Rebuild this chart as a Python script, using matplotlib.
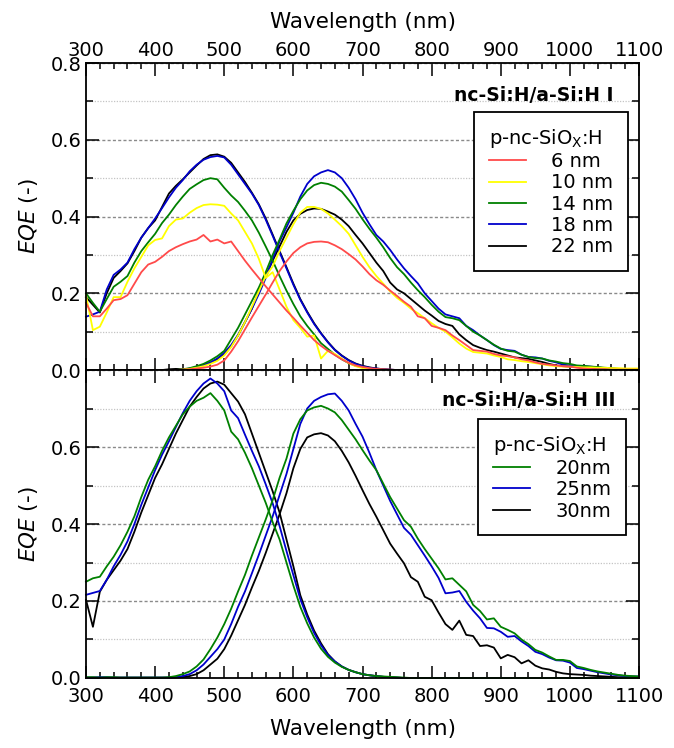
import numpy as np
import matplotlib
matplotlib.use('Agg')
import matplotlib.pyplot as plt
from matplotlib.ticker import MultipleLocator, FormatStrFormatter

plt.rcParams['font.family'] = ['DejaVu Sans']
plt.rcParams['mathtext.fontset'] = 'dejavusans'

# Wavelength grid (nm)
wavelength = np.arange(300, 1101, 10)

# ---- Panel I: nc-Si:H/a-Si:H I, short-wavelength (top cell) EQE ----
top_short_6 = [
    0.175, 0.14, 0.14, 0.16, 0.182, 0.185, 0.195, 0.225, 0.255, 0.275,
    0.282, 0.295, 0.31, 0.32, 0.328, 0.335, 0.34, 0.352, 0.335, 0.34,
    0.33, 0.335, 0.31, 0.285, 0.262, 0.24, 0.218, 0.197, 0.176, 0.155,
    0.136, 0.116, 0.097, 0.078, 0.063, 0.05, 0.039, 0.028, 0.019, 0.012,
    0.008, 0.005, 0.003, 0.002, 0.001, 0.0, 0.0, 0.0, 0.0, 0.0,
    0.0, 0.0, 0.0, 0.0, 0.0, 0.0, 0.0, 0.0, 0.0, 0.0,
    0.0, 0.0, 0.0, 0.0, 0.0, 0.0, 0.0, 0.0, 0.0, 0.0,
    0.0, 0.0, 0.0, 0.0, 0.0, 0.0, 0.0, 0.0, 0.0, 0.0,
    0.0]
top_short_10 = [
    0.195, 0.104, 0.113, 0.15, 0.19, 0.19, 0.23, 0.265, 0.295, 0.325,
    0.339, 0.343, 0.375, 0.392, 0.395, 0.41, 0.422, 0.43, 0.432, 0.431,
    0.428, 0.408, 0.39, 0.36, 0.33, 0.29, 0.24, 0.255, 0.21, 0.165,
    0.13, 0.11, 0.087, 0.09, 0.03, 0.05, 0.042, 0.03, 0.018, 0.01,
    0.005, 0.003, 0.001, 0.0, 0.0, 0.0, 0.0, 0.0, 0.0, 0.0,
    0.0, 0.0, 0.0, 0.0, 0.0, 0.0, 0.0, 0.0, 0.0, 0.0,
    0.0, 0.0, 0.0, 0.0, 0.0, 0.0, 0.0, 0.0, 0.0, 0.0,
    0.0, 0.0, 0.0, 0.0, 0.0, 0.0, 0.0, 0.0, 0.0, 0.0,
    0.0]
top_short_14 = [
    0.2, 0.175, 0.152, 0.185, 0.217, 0.23, 0.245, 0.28, 0.31, 0.333,
    0.355, 0.383, 0.405, 0.43, 0.452, 0.472, 0.484, 0.495, 0.5, 0.497,
    0.475, 0.455, 0.438, 0.415, 0.39, 0.358, 0.322, 0.285, 0.245, 0.207,
    0.172, 0.14, 0.115, 0.093, 0.07, 0.055, 0.04, 0.028, 0.018, 0.011,
    0.007, 0.004, 0.002, 0.001, 0.0, 0.0, 0.0, 0.0, 0.0, 0.0,
    0.0, 0.0, 0.0, 0.0, 0.0, 0.0, 0.0, 0.0, 0.0, 0.0,
    0.0, 0.0, 0.0, 0.0, 0.0, 0.0, 0.0, 0.0, 0.0, 0.0,
    0.0, 0.0, 0.0, 0.0, 0.0, 0.0, 0.0, 0.0, 0.0, 0.0,
    0.0]
top_short_18 = [
    0.139, 0.145, 0.152, 0.21, 0.248, 0.262, 0.28, 0.315, 0.345, 0.37,
    0.395, 0.422, 0.45, 0.475, 0.495, 0.518, 0.535, 0.548, 0.555, 0.558,
    0.554, 0.535, 0.51, 0.485, 0.46, 0.43, 0.392, 0.35, 0.307, 0.265,
    0.222, 0.183, 0.15, 0.12, 0.095, 0.072, 0.052, 0.037, 0.025, 0.016,
    0.01, 0.006, 0.004, 0.002, 0.001, 0.0, 0.0, 0.0, 0.0, 0.0,
    0.0, 0.0, 0.0, 0.0, 0.0, 0.0, 0.0, 0.0, 0.0, 0.0,
    0.0, 0.0, 0.0, 0.0, 0.0, 0.0, 0.0, 0.0, 0.0, 0.0,
    0.0, 0.0, 0.0, 0.0, 0.0, 0.0, 0.0, 0.0, 0.0, 0.0,
    0.0]
top_short_22 = [
    0.19, 0.17, 0.15, 0.2, 0.24, 0.258, 0.278, 0.31, 0.345, 0.37,
    0.39, 0.425, 0.46, 0.48, 0.497, 0.515, 0.533, 0.55, 0.56, 0.562,
    0.556, 0.54, 0.515, 0.49, 0.462, 0.432, 0.395, 0.353, 0.31, 0.268,
    0.225, 0.185, 0.152, 0.122, 0.096, 0.073, 0.053, 0.038, 0.026, 0.017,
    0.011, 0.007, 0.004, 0.002, 0.001, 0.0, 0.0, 0.0, 0.0, 0.0,
    0.0, 0.0, 0.0, 0.0, 0.0, 0.0, 0.0, 0.0, 0.0, 0.0,
    0.0, 0.0, 0.0, 0.0, 0.0, 0.0, 0.0, 0.0, 0.0, 0.0,
    0.0, 0.0, 0.0, 0.0, 0.0, 0.0, 0.0, 0.0, 0.0, 0.0,
    0.0]

# ---- Panel I: long-wavelength (bottom cell) EQE ----
top_long_6 = [
    0.0, 0.0, 0.0, 0.0, 0.0, 0.0, 0.0, 0.0, 0.0, 0.0,
    0.0, 0.0, 0.0, 0.0, 0.001, 0.002, 0.004, 0.006, 0.009, 0.014,
    0.025, 0.048, 0.075, 0.106, 0.137, 0.167, 0.197, 0.228, 0.258, 0.283,
    0.305, 0.32, 0.33, 0.334, 0.335, 0.333, 0.325, 0.315, 0.302, 0.288,
    0.27, 0.25, 0.234, 0.222, 0.207, 0.193, 0.178, 0.165, 0.14, 0.135,
    0.115, 0.11, 0.104, 0.09, 0.078, 0.065, 0.052, 0.05, 0.048, 0.042,
    0.038, 0.036, 0.033, 0.028, 0.025, 0.02, 0.016, 0.014, 0.012, 0.01,
    0.009, 0.006, 0.004, 0.003, 0.002, 0.002, 0.001, 0.001, 0.001, 0.001,
    0.001]
top_long_10 = [
    0.0, 0.0, 0.0, 0.0, 0.0, 0.0, 0.0, 0.0, 0.0, 0.0,
    0.0, 0.0, 0.0, 0.0, 0.001, 0.003, 0.006, 0.01, 0.016, 0.024,
    0.038, 0.06, 0.09, 0.125, 0.165, 0.205, 0.245, 0.27, 0.31, 0.345,
    0.38, 0.41, 0.425, 0.425, 0.42, 0.408, 0.392, 0.375, 0.355, 0.325,
    0.295, 0.268, 0.245, 0.225, 0.205, 0.188, 0.175, 0.16, 0.148, 0.135,
    0.122, 0.11, 0.1, 0.085, 0.069, 0.056, 0.047, 0.045, 0.043, 0.038,
    0.034, 0.028, 0.026, 0.023, 0.021, 0.018, 0.015, 0.012, 0.01, 0.009,
    0.009, 0.008, 0.007, 0.007, 0.006, 0.006, 0.005, 0.005, 0.004, 0.004,
    0.004]
top_long_14 = [
    0.0, 0.0, 0.0, 0.0, 0.0, 0.0, 0.0, 0.0, 0.0, 0.0,
    0.0, 0.0, 0.0, 0.0, 0.002, 0.005, 0.01, 0.016, 0.025, 0.036,
    0.05, 0.08, 0.11, 0.145, 0.18, 0.215, 0.255, 0.3, 0.34, 0.382,
    0.415, 0.445, 0.468, 0.482, 0.488, 0.485, 0.478, 0.465, 0.443, 0.42,
    0.393, 0.368, 0.345, 0.32, 0.292, 0.268, 0.25, 0.228, 0.208, 0.19,
    0.17, 0.152, 0.138, 0.135, 0.13, 0.115, 0.1, 0.09, 0.078, 0.066,
    0.056, 0.05, 0.048, 0.04, 0.034, 0.031, 0.03, 0.025, 0.022, 0.018,
    0.016, 0.012, 0.011, 0.009, 0.008, 0.006, 0.005, 0.003, 0.002, 0.001,
    0.001]
top_long_18 = [
    0.0, 0.0, 0.0, 0.0, 0.0, 0.0, 0.0, 0.0, 0.0, 0.0,
    0.0, 0.0, 0.0, 0.0, 0.001, 0.004, 0.008, 0.013, 0.02, 0.03,
    0.045, 0.065, 0.092, 0.125, 0.16, 0.198, 0.24, 0.29, 0.335, 0.372,
    0.41, 0.452, 0.485, 0.505, 0.515, 0.521, 0.515, 0.5, 0.475, 0.445,
    0.41, 0.38, 0.352, 0.335, 0.313, 0.288, 0.265, 0.245, 0.226, 0.2,
    0.18, 0.16, 0.145, 0.14, 0.135, 0.115, 0.104, 0.09, 0.078, 0.065,
    0.055, 0.052, 0.05, 0.04, 0.034, 0.033, 0.03, 0.024, 0.02, 0.014,
    0.012, 0.01, 0.01, 0.009, 0.007, 0.005, 0.004, 0.003, 0.002, 0.002,
    0.002]
top_long_22 = [
    0.0, 0.0, 0.0, 0.0, 0.0, 0.0, 0.0, 0.0, 0.0, 0.0,
    0.0, 0.0, 0.002, 0.003, 0.002, 0.003, 0.007, 0.012, 0.019, 0.028,
    0.04, 0.062, 0.09, 0.125, 0.16, 0.205, 0.245, 0.285, 0.322, 0.36,
    0.39, 0.407, 0.417, 0.421, 0.42, 0.413, 0.405, 0.392, 0.375, 0.352,
    0.33, 0.305, 0.28, 0.258, 0.228, 0.21, 0.2, 0.185, 0.17, 0.155,
    0.142, 0.128, 0.12, 0.115, 0.093, 0.078, 0.065, 0.058, 0.052, 0.048,
    0.043, 0.038, 0.033, 0.031, 0.029, 0.025, 0.021, 0.016, 0.012, 0.01,
    0.009, 0.008, 0.007, 0.005, 0.004, 0.003, 0.002, 0.001, 0.001, 0.001,
    0.001]

# ---- Panel III: short-wavelength EQE ----
bot_short_20 = [
    0.25, 0.259, 0.263, 0.29, 0.315, 0.345, 0.38, 0.42, 0.47, 0.515,
    0.55, 0.59, 0.625, 0.655, 0.685, 0.705, 0.72, 0.728, 0.74, 0.72,
    0.695, 0.64, 0.62, 0.585, 0.545, 0.5, 0.455, 0.405, 0.36, 0.3,
    0.24, 0.185, 0.142, 0.105, 0.076, 0.055, 0.04, 0.029, 0.021, 0.015,
    0.01, 0.007, 0.005, 0.004, 0.003, 0.002, 0.001, 0.0, 0.0, 0.0,
    0.0, 0.0, 0.0, 0.0, 0.0, 0.0, 0.0, 0.0, 0.0, 0.0,
    0.0, 0.0, 0.0, 0.0, 0.0, 0.0, 0.0, 0.0, 0.0, 0.0,
    0.0, 0.0, 0.0, 0.0, 0.0, 0.0, 0.0, 0.0, 0.0, 0.0,
    0.0]
bot_short_25 = [
    0.216, 0.221, 0.226, 0.255, 0.29, 0.32, 0.355, 0.4, 0.45, 0.495,
    0.54, 0.58, 0.615, 0.652, 0.688, 0.72, 0.745, 0.765, 0.778, 0.765,
    0.745, 0.695, 0.675, 0.632, 0.59, 0.55, 0.503, 0.454, 0.395, 0.33,
    0.267, 0.205, 0.158, 0.117, 0.085, 0.06, 0.043, 0.03, 0.021, 0.015,
    0.01, 0.007, 0.005, 0.003, 0.002, 0.001, 0.0, 0.0, 0.0, 0.0,
    0.0, 0.0, 0.0, 0.0, 0.0, 0.0, 0.0, 0.0, 0.0, 0.0,
    0.0, 0.0, 0.0, 0.0, 0.0, 0.0, 0.0, 0.0, 0.0, 0.0,
    0.0, 0.0, 0.0, 0.0, 0.0, 0.0, 0.0, 0.0, 0.0, 0.0,
    0.0]
bot_short_30 = [
    0.203, 0.133, 0.224, 0.255, 0.28, 0.305, 0.335, 0.38, 0.43, 0.475,
    0.52, 0.555, 0.595, 0.635, 0.67, 0.705, 0.73, 0.752, 0.765, 0.77,
    0.762, 0.74, 0.718, 0.685, 0.635, 0.585, 0.535, 0.485, 0.43, 0.36,
    0.29, 0.215, 0.165, 0.123, 0.09, 0.062, 0.043, 0.03, 0.021, 0.015,
    0.01, 0.007, 0.005, 0.003, 0.002, 0.001, 0.0, 0.0, 0.0, 0.0,
    0.0, 0.0, 0.0, 0.0, 0.0, 0.0, 0.0, 0.0, 0.0, 0.0,
    0.0, 0.0, 0.0, 0.0, 0.0, 0.0, 0.0, 0.0, 0.0, 0.0,
    0.0, 0.0, 0.0, 0.0, 0.0, 0.0, 0.0, 0.0, 0.0, 0.0,
    0.0]

# ---- Panel III: long-wavelength EQE ----
bot_long_20 = [
    0.002, 0.002, 0.001, 0.002, 0.002, 0.001, 0.001, 0.001, 0.001, 0.001,
    0.001, 0.001, 0.002, 0.005, 0.01, 0.017, 0.03, 0.048, 0.075, 0.105,
    0.14, 0.18, 0.225, 0.268, 0.318, 0.365, 0.412, 0.462, 0.52, 0.57,
    0.635, 0.672, 0.695, 0.703, 0.707, 0.7, 0.69, 0.67, 0.645, 0.62,
    0.592, 0.565, 0.54, 0.505, 0.47, 0.44, 0.41, 0.393, 0.362, 0.335,
    0.31, 0.285, 0.256, 0.259, 0.242, 0.225, 0.19, 0.174, 0.152, 0.155,
    0.133, 0.125, 0.116, 0.1, 0.088, 0.073, 0.066, 0.056, 0.047, 0.047,
    0.044, 0.03, 0.026, 0.021, 0.017, 0.014, 0.011, 0.008, 0.006, 0.005,
    0.004]
bot_long_25 = [
    0.001, 0.001, 0.002, 0.002, 0.001, 0.001, 0.001, 0.001, 0.001, 0.001,
    0.001, 0.001, 0.001, 0.002, 0.005, 0.01, 0.02, 0.035, 0.055, 0.075,
    0.1, 0.14, 0.185, 0.225, 0.272, 0.32, 0.37, 0.42, 0.475, 0.53,
    0.595, 0.66, 0.7, 0.72, 0.73, 0.737, 0.739, 0.72, 0.695, 0.66,
    0.627, 0.585, 0.54, 0.5, 0.46, 0.425, 0.39, 0.372, 0.345, 0.318,
    0.29, 0.26, 0.22, 0.222, 0.226, 0.198, 0.175, 0.155, 0.13, 0.129,
    0.12, 0.107, 0.109, 0.095, 0.083, 0.068, 0.062, 0.053, 0.046, 0.045,
    0.04, 0.026, 0.023, 0.019, 0.015, 0.012, 0.009, 0.007, 0.005, 0.004,
    0.004]
bot_long_30 = [
    0.001, 0.001, 0.001, 0.001, 0.001, 0.001, 0.001, 0.001, 0.001, 0.001,
    0.001, 0.001, 0.001, 0.001, 0.002, 0.005, 0.01, 0.02, 0.035, 0.05,
    0.075, 0.11, 0.15, 0.19, 0.235, 0.278, 0.325, 0.375, 0.425, 0.48,
    0.545, 0.595, 0.625, 0.633, 0.636, 0.63, 0.615, 0.59, 0.56, 0.525,
    0.488, 0.452, 0.419, 0.384, 0.349, 0.323, 0.298, 0.262, 0.25, 0.211,
    0.202, 0.17, 0.14, 0.125, 0.149, 0.112, 0.109, 0.083, 0.085, 0.079,
    0.051, 0.06, 0.054, 0.038, 0.046, 0.032, 0.025, 0.022, 0.016, 0.012,
    0.01, 0.009, 0.008, 0.006, 0.005, 0.004, 0.003, 0.002, 0.002, 0.002,
    0.002]

top_labels = ['6 nm', '10 nm', '14 nm', '18 nm', '22 nm']
top_colors = ['#ff4a4a', '#ffff00', '#008000', '#0000cc', '#000000']
top_short = [top_short_6, top_short_10, top_short_14, top_short_18, top_short_22]
top_long = [top_long_6, top_long_10, top_long_14, top_long_18, top_long_22]

bot_labels = ['20nm', '25nm', '30nm']
bot_colors = ['#008000', '#0000cc', '#000000']
bot_short = [bot_short_20, bot_short_25, bot_short_30]
bot_long = [bot_long_20, bot_long_25, bot_long_30]

legend_title = r'p-nc-SiO$_\mathrm{X}$:H'


def style_axes(ax, labels_on_top):
    """Оформление осей в стиле исходного графика"""
    ax.set_xlim(300, 1100)
    ax.set_ylim(0, 0.8)
    ax.xaxis.set_major_locator(MultipleLocator(100))
    ax.xaxis.set_minor_locator(MultipleLocator(20))
    ax.yaxis.set_major_locator(MultipleLocator(0.2))
    ax.yaxis.set_minor_locator(MultipleLocator(0.1))
    ax.yaxis.set_major_formatter(FormatStrFormatter('%.1f'))

    ax.tick_params(which='both', direction='in', top=True, right=True,
                   width=1.1, labelsize=14, colors='black')
    ax.tick_params(axis='x', which='major', length=9)
    ax.tick_params(axis='x', which='minor', length=4.5)
    ax.tick_params(axis='y', which='major', length=9.5, pad=3)
    ax.tick_params(axis='y', which='minor', length=5)

    if labels_on_top:
        ax.tick_params(axis='x', labeltop=True, labelbottom=False, pad=2.5)
        ax.xaxis.set_label_position('top')
    else:
        ax.tick_params(axis='x', pad=6.5)

    for spine in ax.spines.values():
        spine.set_linewidth(1.3)

    # Горизонтальная сетка: штрих для основных, точки для промежуточных
    ax.yaxis.grid(True, which='major', linestyle=(0, (2.2, 1.6)),
                  color='#8a8a8a', linewidth=1.0)
    ax.yaxis.grid(True, which='minor', linestyle=(0, (1, 1.2)),
                  color='#c4c4c4', linewidth=0.9)
    ax.set_axisbelow(True)

    ax.set_xlabel('Wavelength (nm)', fontsize=15.5, labelpad=9)
    ax.set_ylabel(r'$EQE$ (-)', fontsize=15.5, labelpad=8)


def draw_panel(ax, short_list, long_list, colors, labels):
    """Рисует пары кривых (короткие и длинные волны) для каждой толщины"""
    handles = [None] * len(labels)
    # Рисуем в обратном порядке, чтобы первая серия оказалась сверху
    for i in reversed(range(len(labels))):
        line, = ax.plot(wavelength, short_list[i], color=colors[i],
                        linewidth=1.3, clip_on=False, label=labels[i])
        ax.plot(wavelength, long_list[i], color=colors[i],
                linewidth=1.3, clip_on=False)
        handles[i] = line
    return handles


fig = plt.figure(figsize=(6.74, 7.48), dpi=100)
ax_top = fig.add_axes([0.1276, 0.5053, 0.8205, 0.4104])
ax_bot = fig.add_axes([0.1276, 0.0936, 0.8205, 0.4117])

style_axes(ax_top, True)
style_axes(ax_bot, False)
ax_bot.set_yticks([0.0, 0.2, 0.4, 0.6, 0.8], ['0.0', '0.2', '0.4', '0.6', ''])

top_handles = draw_panel(ax_top, top_short, top_long, top_colors, top_labels)
bot_handles = draw_panel(ax_bot, bot_short, bot_long, bot_colors, bot_labels)

# Подписи образцов
ax_top.text(0.953, 0.895, 'nc-Si:H/a-Si:H I', transform=ax_top.transAxes,
            ha='right', va='center', fontsize=13.5, fontweight='bold')
ax_bot.text(0.958, 0.90, 'nc-Si:H/a-Si:H III', transform=ax_bot.transAxes,
            ha='right', va='center', fontsize=13.5, fontweight='bold')

# Легенды
for ax, handles, anchor in [(ax_top, top_handles, (0.98, 0.84)),
                            (ax_bot, bot_handles, (0.976, 0.841))]:
    leg = ax.legend(handles=handles, title=legend_title, loc='upper right',
                    bbox_to_anchor=anchor, borderaxespad=0, fontsize=14,
                    title_fontsize=14, alignment='left', fancybox=False,
                    framealpha=1, edgecolor='black', handlelength=1.9,
                    handletextpad=1.3, labelspacing=0.12, borderpad=0.75)
    leg.get_frame().set_linewidth(1.3)

fig.savefig('out.png', dpi=100)
